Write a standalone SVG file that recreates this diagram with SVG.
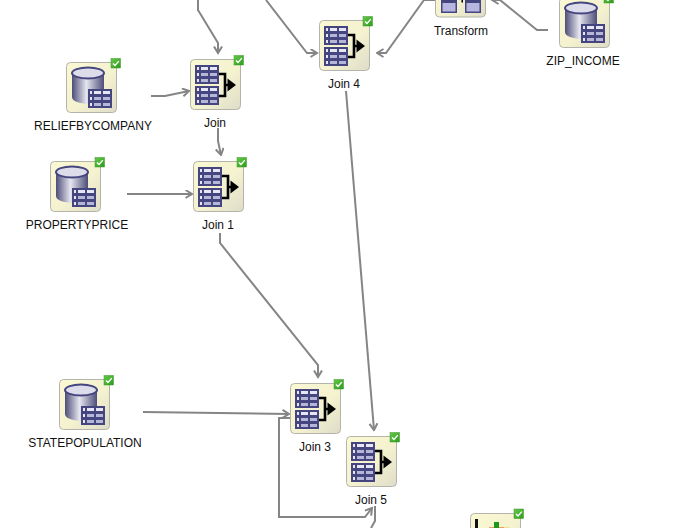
<svg xmlns="http://www.w3.org/2000/svg" width="686" height="528" viewBox="0 0 686 528">
<style>
.lbl{font-family:"Liberation Sans",Arial,sans-serif;font-size:12px;fill:#111;text-anchor:middle}
.c{fill:none;stroke:#858585;stroke-width:2}
.box{fill:url(#bg);stroke:#b4b4aa;stroke-width:1}
.tb{fill:#45457f}
.cell{fill:#e6e6f4}
.br{fill:none;stroke:#000;stroke-width:2.6}
</style>
<defs>
<linearGradient id="bg" x1="0" y1="0" x2="1" y2="1"><stop offset="0" stop-color="#fbf9d3"/><stop offset="0.55" stop-color="#f4f2cf"/><stop offset="1" stop-color="#dedcc8"/></linearGradient>
<linearGradient id="cyl" x1="0" y1="0" x2="1" y2="0"><stop offset="0" stop-color="#4d4d78"/><stop offset="0.45" stop-color="#e6e6f0"/><stop offset="1" stop-color="#4d4d78"/></linearGradient>
<linearGradient id="badgeFill" x1="0" y1="0" x2="1" y2="1"><stop offset="0" stop-color="#66c94a"/><stop offset="1" stop-color="#2f9a1e"/></linearGradient>
<marker id="a" markerWidth="9" markerHeight="10" refX="7.5" refY="4.5" orient="auto" markerUnits="userSpaceOnUse"><path d="M1,0.5L7.5,4.5L1,8.5" fill="none" stroke="#858585" stroke-width="2"/></marker>
<g id="table"><rect width="24" height="19" class="tb"/><rect x="2" y="2" width="2" height="3" class="cell"/><rect x="2" y="8" width="2" height="3" class="cell"/><rect x="2" y="14" width="2" height="3" class="cell"/><rect x="6" y="2" width="7" height="3" class="cell"/><rect x="15" y="2" width="7" height="3" class="cell"/><rect x="6" y="8" width="7" height="3" fill="#b6b6d8"/><rect x="15" y="8" width="7" height="3" fill="#b6b6d8"/><rect x="6" y="14" width="7" height="3" fill="#b6b6d8"/><rect x="15" y="14" width="7" height="3" fill="#b6b6d8"/></g>
<g id="badge"><rect width="9.5" height="9.5" fill="url(#badgeFill)" stroke="#3a9a28" stroke-width="0.5"/><path d="M2,5L4,7L7.8,2.6" fill="none" stroke="#fff" stroke-width="1.4"/></g>
<g id="join"><rect x="0.5" y="0.5" width="50" height="50" rx="4" class="box"/><use href="#table" x="5" y="6"/><use href="#table" x="5" y="27"/><path class="br" d="M29,15H35V37H29M35,26H39"/><path d="M37.5,19.5L46,26L37.5,32.5Z" fill="#000"/><use href="#badge" x="44" y="-3.5"/></g>
<g id="db"><rect x="0.5" y="0.5" width="50" height="50" rx="4" class="box"/><path d="M6,11V35C6,44 38,44 38,35V11Z" fill="url(#cyl)"/><ellipse cx="22" cy="11" rx="16" ry="5.5" fill="#dcdcea" stroke="#45457f" stroke-width="2"/><use href="#table" x="22" y="27"/><use href="#badge" x="45" y="-3.5"/></g>
</defs>
<rect width="686" height="528" fill="#fff"/>
<g id="connectors">
<path class="c" marker-end="url(#a)" d="M198,0V10L218,43V53"/>
<path class="c" marker-end="url(#a)" d="M266,0L307,53H317"/>
<path class="c" marker-end="url(#a)" d="M151,96H165L189,91"/>
<path class="c" marker-end="url(#a)" d="M218,128V141L221,155"/>
<path class="c" marker-end="url(#a)" d="M127,194H192"/>
<path class="c" marker-end="url(#a)" d="M220,233V243L318,365V377"/>
<path class="c" marker-end="url(#a)" d="M143,412L289,414"/>
<path class="c" marker-end="url(#a)" d="M346,91L374,430"/>
<path class="c" marker-end="url(#a)" d="M291,418H279V517H365L372,508"/>
<path class="c" d="M375,506V521L371,528"/>
<path class="c" marker-end="url(#a)" d="M435,0H424L386,53H377"/>
<path class="c" marker-end="url(#a)" d="M548,30H537L500,0H492"/>
</g>
<g id="n-relief"><use href="#db" x="66" y="62"/><text class="lbl" x="93" y="130">RELIEFBYCOMPANY</text></g>
<g id="n-join"><use href="#join" x="190" y="59"/><text class="lbl" x="215" y="127">Join</text></g>
<g id="n-property"><use href="#db" x="50" y="161"/><text class="lbl" x="77" y="229">PROPERTYPRICE</text></g>
<g id="n-join1"><use href="#join" x="193" y="161"/><text class="lbl" x="218" y="229">Join 1</text></g>
<g id="n-state"><use href="#db" x="59" y="379"/><text class="lbl" x="85" y="447">STATEPOPULATION</text></g>
<g id="n-join3"><use href="#join" x="290" y="383"/><text class="lbl" x="315" y="451">Join 3</text></g>
<g id="n-join5"><use href="#join" x="346" y="436"/><text class="lbl" x="371" y="504">Join 5</text></g>
<g id="n-join4"><use href="#join" x="319" y="20"/><text class="lbl" x="344" y="88">Join 4</text></g>
<g id="n-transform"><rect x="435.5" y="-33" width="50" height="50" rx="4" class="box"/><rect x="441" y="-3" width="16" height="16" class="tb"/><rect x="442.5" y="3" width="13" height="8.5" fill="#b6b6e0"/><rect x="465" y="-3" width="16" height="16" class="tb"/><rect x="466.5" y="3" width="13" height="8.5" fill="#b6b6e0"/><rect x="461.5" y="0" width="1.5" height="2.5" fill="#000"/><text class="lbl" x="461" y="35">Transform</text></g>
<g id="n-zip"><use href="#db" x="559" y="-3"/><text class="lbl" x="583" y="65">ZIP_INCOME</text></g>
<g id="n-bottom"><rect x="470.5" y="513.5" width="50" height="50" rx="4" class="box"/><rect x="475" y="519" width="3" height="9" fill="#111"/><rect x="489" y="527" width="15" height="1" fill="#ef9a6a"/><rect x="504" y="527" width="5" height="1" fill="#f1e08a"/><rect x="494" y="522" width="5" height="5" fill="#1a9a1a"/><rect x="494" y="527" width="5" height="1" fill="#1a9a1a"/><use href="#badge" x="514" y="509"/></g>
</svg>
